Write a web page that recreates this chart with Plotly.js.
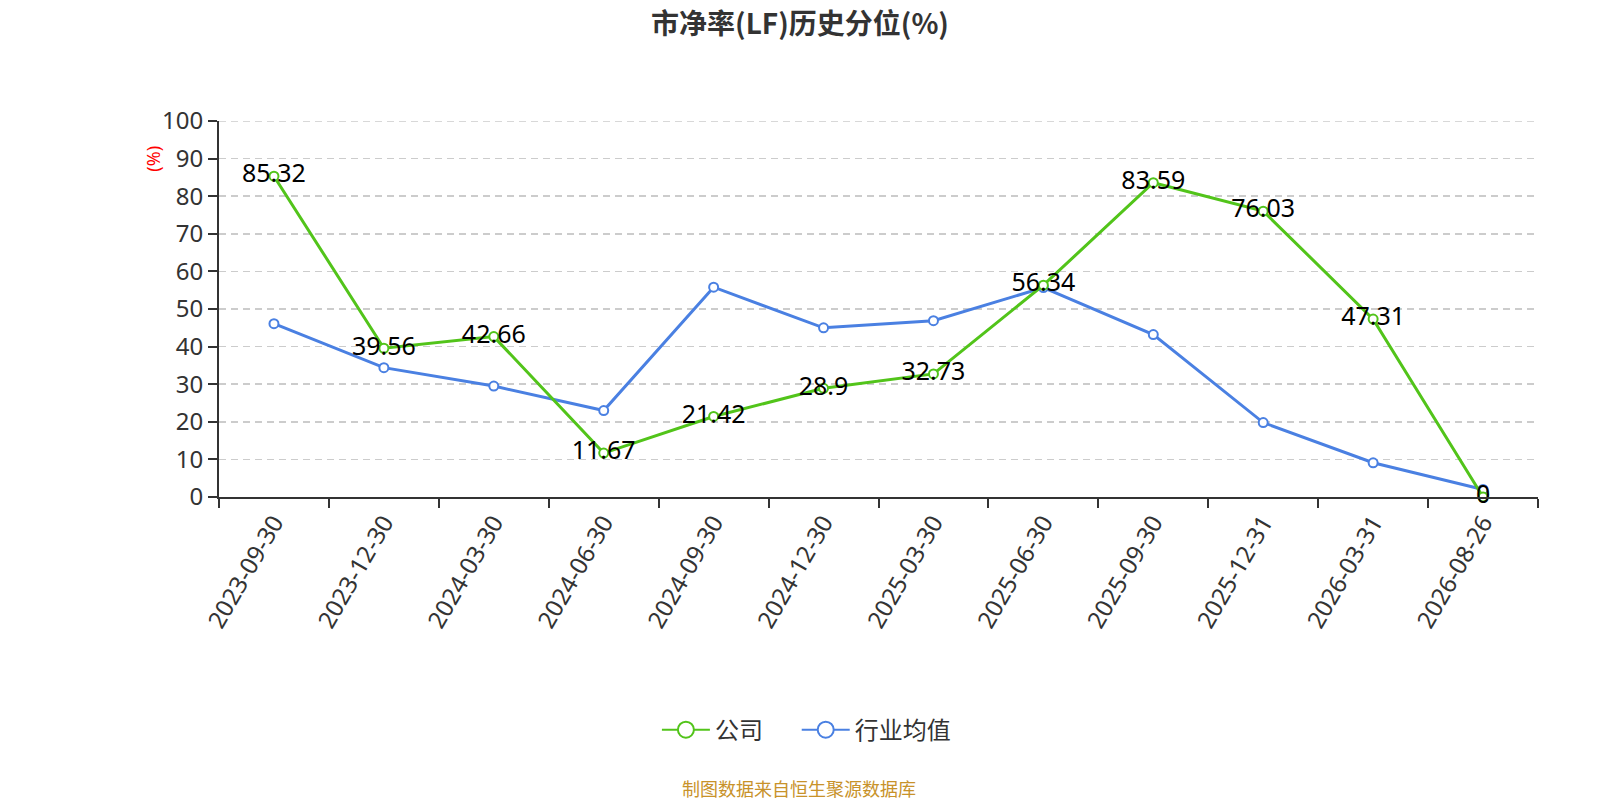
<!DOCTYPE html>
<html>
<head>
<meta charset="utf-8">
<script src="https://cdn.plot.ly/plotly-3.0.1.min.js"></script>
<style>
  body { margin: 0; background: #fff; }
  #chart { width: 1600px; height: 800px; }
</style>
</head>
<body>
<div id="chart"></div>
<script>
var dates = ["2023-09-30", "2023-12-30", "2024-03-30", "2024-06-30", "2024-09-30", "2024-12-30",
             "2025-03-30", "2025-06-30", "2025-09-30", "2025-12-31", "2026-03-31", "2026-08-26"];
var company = [85.32, 39.56, 42.66, 11.67, 21.42, 28.9, 32.73, 56.34, 83.59, 76.03, 47.31, 0];
var industry = [46.1, 34.4, 29.5, 23.0, 55.8, 45.0, 46.9, 55.7, 43.2, 19.8, 9.1, 2.0];
var yTicks = [0, 10, 20, 30, 40, 50, 60, 70, 80, 90, 100];

var green = "#52c41a";
var blue = "#4a80e2";
var baseFont = "Noto Sans, Noto Sans CJK SC, sans-serif";
var cjkFont = "Noto Sans CJK SC, sans-serif";

var traces = [
    {
        type: "scatter",
        mode: "lines+markers",
        name: "行业均值",
        x: dates,
        y: industry,
        showlegend: false,
        line: { color: blue, width: 3 },
        marker: { symbol: "circle", size: 9, color: "#fff", line: { color: blue, width: 2 } },
        cliponaxis: false
    },
    {
        type: "scatter",
        mode: "lines+markers+text",
        name: "公司",
        x: dates,
        y: company,
        showlegend: false,
        text: company.map(String),
        textposition: "middle center",
        textfont: { family: baseFont, size: 25, color: "#000" },
        line: { color: green, width: 3 },
        marker: { symbol: "circle", size: 9, color: "#fff", line: { color: green, width: 2 } },
        cliponaxis: false
    },
    // legend entries, with the bigger symbols of the reference legend
    {
        type: "scatter", mode: "lines+markers", name: "公司",
        x: [null], y: [null], legend: "legend",
        line: { color: green, width: 2 },
        marker: { symbol: "circle", size: 16, color: "#fff", line: { color: green, width: 2 } }
    },
    {
        type: "scatter", mode: "lines+markers", name: "行业均值",
        x: [null], y: [null], legend: "legend2",
        line: { color: blue, width: 2 },
        marker: { symbol: "circle", size: 16, color: "#fff", line: { color: blue, width: 2 } }
    }
];

var legendFont = { family: cjkFont, size: 24, color: "#333" };

var layout = {
    width: 1600,
    height: 800,
    paper_bgcolor: "#fff",
    plot_bgcolor: "#fff",
    font: { family: baseFont, color: "#333" },
    title: {
        text: "<b>市净率(LF)历史分位(%)</b>",
        font: { family: cjkFont, size: 28, color: "#333" },
        x: 0.5,
        xanchor: "center",
        y: 0.97,
        yanchor: "middle"
    },
    margin: { l: 219, r: 62, t: 121, b: 303, pad: 0 },
    xaxis: {
        type: "category",
        range: [-0.5, dates.length - 0.5],
        tickson: "boundaries",
        ticks: "outside",
        ticklen: 9,
        tickwidth: 2,
        tickcolor: "#333",
        showline: true,
        linecolor: "#333",
        linewidth: 2,
        showgrid: false,
        tickangle: -60,
        tickfont: { family: baseFont, size: 24, color: "#333" },
        fixedrange: true
    },
    yaxis: {
        range: [0, 100],
        tickvals: yTicks,
        ticks: "outside",
        ticklen: 9,
        tickwidth: 2,
        tickcolor: "#333",
        showline: true,
        linecolor: "#333",
        linewidth: 2,
        showgrid: true,
        gridcolor: "#cccccc",
        gridwidth: 1.5,
        griddash: "7px,5px",
        zeroline: false,
        tickfont: { family: baseFont, size: 24, color: "#333" },
        fixedrange: true
    },
    // top grid line at 100, which Plotly drops at the plot edge
    shapes: [
        {
            type: "line", xref: "paper", yref: "y",
            x0: 0, x1: 1, y0: 100, y1: 100,
            line: { color: "#cccccc", width: 1.5, dash: "7px,5px" },
            layer: "below"
        }
    ],
    showlegend: true,
    legend: {
        orientation: "h",
        x: 0.332, xanchor: "left",
        y: -0.62, yanchor: "middle",
        font: legendFont,
        itemwidth: 48
    },
    legend2: {
        orientation: "h",
        x: 0.438, xanchor: "left",
        y: -0.62, yanchor: "middle",
        font: legendFont,
        itemwidth: 48
    },
    annotations: [
        {
            text: "(%)",
            xref: "paper", yref: "paper",
            x: -0.05, y: 0.9,
            xanchor: "center", yanchor: "middle",
            textangle: -90,
            showarrow: false,
            font: { family: baseFont, size: 18, color: "red" }
        },
        {
            text: "制图数据来自恒生聚源数据库",
            xref: "paper", yref: "paper",
            x: 0.44, y: -0.775,
            xanchor: "center", yanchor: "middle",
            showarrow: false,
            font: { family: cjkFont, size: 18, color: "#c8922a" }
        }
    ]
};

Plotly.newPlot("chart", traces, layout, { displayModeBar: false, staticPlot: true });
</script>
</body>
</html>
